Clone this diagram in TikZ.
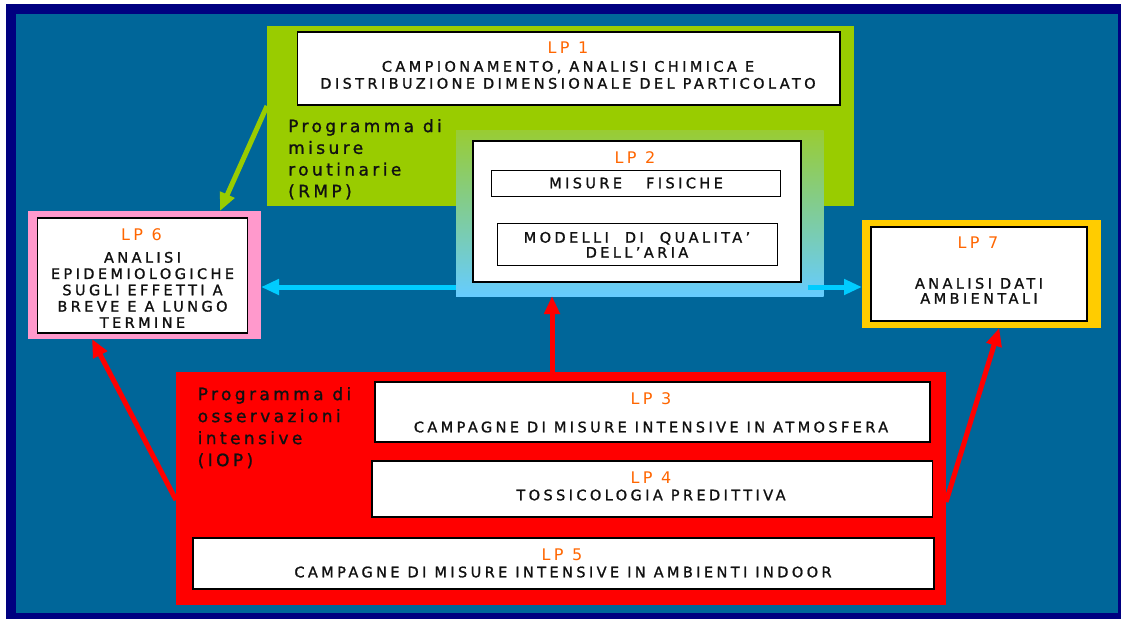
\documentclass[tikz,border=0pt]{standalone}
\usepackage{fontspec}
\setmainfont{DejaVu Sans}
\newfontfamily\lpfont[LetterSpace=23.5,FakeBold=1.2]{DejaVu Sans}
\newfontfamily\lplabelfont[LetterSpace=21.5]{DejaVu Sans}
\newfontfamily\progfont[LetterSpace=20,FakeBold=1.2]{DejaVu Sans}
\usetikzlibrary{arrows.meta,positioning}

\definecolor{navyframe}{HTML}{000080}
\definecolor{bgblue}{HTML}{006699}
\definecolor{rmpgreen}{HTML}{99CC00}
\definecolor{lp2top}{HTML}{99CC33}
\definecolor{lp2bottom}{HTML}{66CCFF}
\definecolor{lp6pink}{HTML}{FF99CC}
\definecolor{lp7yellow}{HTML}{FFCC00}
\definecolor{iopred}{HTML}{FF0000}
\definecolor{lporange}{HTML}{FF6600}
\definecolor{cyanarrow}{HTML}{00CCFF}
\definecolor{txtgray}{HTML}{111111}

\begin{document}
\begin{tikzpicture}[x=1pt, y=-1pt,
    panel/.style = {inner sep=0pt, outer sep=0pt},
    wbox/.style = {draw=black, line width=1.3pt, fill=white, inner sep=0pt, outer sep=0pt},
    lp/.style = {font=\lplabelfont\fontsize{16}{18}\selectfont, text=lporange, inner sep=0pt, anchor=base},
    txt/.style = {font=\lpfont\fontsize{14.5}{#1}\selectfont, text=txtgray, inner sep=0pt, align=center},
    txt/.default = 17,
    prog/.style = {font=\progfont\fontsize{17}{#1}\selectfont, text=txtgray, inner sep=0pt, align=left, anchor=north west},
    prog/.default = 21.7,
    link/.style = {line width=5pt, -{Triangle[length=18pt,width=15pt]}}]
  \useasboundingbox (0,0) rectangle (1121,619);
  \fill[white] (0,0) rectangle (1121,619);
  \fill[navyframe] (6,4) rectangle (1121,619);
  \fill[bgblue] (16,14) rectangle (1118,613);

  % panels and boxes
  \node[panel, fill=rmpgreen, minimum width=586.5pt, minimum height=180pt] (rmp) at (560.25,116) {};
  \node[wbox, minimum width=542.5pt, minimum height=73pt] (lp1) at (568.75,68.5) {};
  \node[panel, top color=lp2top, bottom color=lp2bottom, minimum width=367.5pt, minimum height=166pt] (lp2bg) at (639.75,213) {};
  \node[wbox, minimum width=328pt, minimum height=141pt] (lp2) at (637,211.5) {};
  \node[wbox, line width=0.9pt, minimum width=289pt, minimum height=26pt] (misure) at (636,183) {};
  \node[wbox, line width=0.9pt, minimum width=280.5pt, minimum height=42.5pt] (modelli) at (637.25,244.25) {};
  \node[panel, fill=lp6pink, minimum width=233pt, minimum height=128pt] (lp6bg) at (144.5,275) {};
  \node[wbox, minimum width=210pt, minimum height=115pt] (lp6) at (142.5,275.5) {};
  \node[panel, fill=lp7yellow, minimum width=238.5pt, minimum height=108pt] (lp7bg) at (981.25,274) {};
  \node[wbox, minimum width=216pt, minimum height=94pt] (lp7) at (979,274) {};
  \node[panel, fill=iopred, minimum width=770pt, minimum height=233pt] (iop) at (561,488.5) {};
  \node[wbox, minimum width=555pt, minimum height=60pt] (lp3) at (652.5,412) {};
  \node[wbox, minimum width=560.5pt, minimum height=56pt] (lp4) at (652.25,489) {};
  \node[wbox, minimum width=741pt, minimum height=51pt] (lp5) at (563.5,563.5) {};

  % texts
  \node[lp] (lp1lbl) at (568,53) {LP 1};
  \node[txt, anchor=north] (lp1txt) at (568,60.7) {CAMPIONAMENTO, ANALISI CHIMICA E\\DISTRIBUZIONE DIMENSIONALE DEL PARTICOLATO};
  \node[prog] (rmptxt) at (288,119) {Programma di\\misure\\routinarie\\(RMP)};
  \node[lp] (lp2lbl) at (635,163) {LP 2};
  \node[txt, anchor=base] (misuretxt) at (636,188.3) {MISURE~~~FISICHE};
  \node[txt=15, anchor=north] (modellitxt) at (637,231.7) {MODELLI~~DI~~QUALITA’\\DELL’ARIA};
  \node[lp] (lp6lbl) at (141.5,240) {LP 6};
  \node[txt=16.3, anchor=north] (lp6txt) at (142.5,251.7) {ANALISI\\EPIDEMIOLOGICHE\\SUGLI EFFETTI A\\BREVE E A LUNGO\\TERMINE};
  \node[lp] (lp7lbl) at (978,248) {LP 7};
  \node[txt=15, anchor=north] (lp7txt) at (979,277.7) {ANALISI DATI\\AMBIENTALI};
  \node[prog=22] (ioptxt) at (197.5,387) {Programma di\\osservazioni\\intensive\\(IOP)};
  \node[lp] (lp3lbl) at (651,404) {LP 3};
  \node[txt, anchor=base] (lp3txt) at (651,432.3) {CAMPAGNE DI MISURE INTENSIVE IN ATMOSFERA};
  \node[lp] (lp4lbl) at (651,483) {LP 4};
  \node[txt, anchor=base] (lp4txt) at (651,500.3) {TOSSICOLOGIA PREDITTIVA};
  \node[lp] (lp5lbl) at (562,560) {LP 5};
  \node[txt, anchor=base] (lp5txt) at (563,577.3) {CAMPAGNE DI MISURE INTENSIVE IN AMBIENTI INDOOR};

  % arrows
  \coordinate (g0) at ([yshift=-80pt]rmp.north west);
  \draw[link, rmpgreen] (g0) -- ([xshift=-41pt]lp6bg.north east);
  \coordinate (cl) at ([yshift=9pt]lp2bg.south west);
  \draw[link, cyanarrow] (cl) -- (cl -| lp6bg.east);
  \coordinate (cr) at ([xshift=7pt,yshift=-5pt]lp2.south east);
  \draw[link, cyanarrow] (cr) -- (cr -| lp7bg.west);
  \coordinate (r0) at ([xshift=-9pt]iop.north);
  \draw[link, iopred] (r0) -- (r0 |- lp2bg.south);
  \draw[link, iopred] ([yshift=-128pt]iop.north west) -- ([xshift=64pt]lp6bg.south west);
  \draw[link, iopred] ([yshift=-130pt]iop.north east) -- ([xshift=18pt]lp7bg.south);
\end{tikzpicture}
\end{document}
